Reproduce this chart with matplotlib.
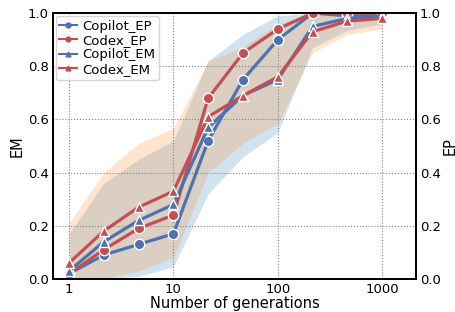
import matplotlib
matplotlib.use("Agg")
import matplotlib.pyplot as plt
from matplotlib.lines import Line2D

# data
generations = [1, 2.15, 4.64, 10, 21.5, 46.4, 100, 215, 464, 1000]
copilot_ep = [0.02, 0.09, 0.13, 0.17, 0.52, 0.75, 0.90, 1.00, 0.99, 0.99]
codex_ep = [0.02, 0.11, 0.19, 0.24, 0.68, 0.85, 0.94, 1.00, 1.00, 1.00]
copilot_em = [0.03, 0.14, 0.22, 0.28, 0.57, 0.69, 0.75, 0.95, 0.98, 0.99]
codex_em = [0.06, 0.18, 0.27, 0.33, 0.61, 0.69, 0.76, 0.93, 0.97, 0.98]

# shaded ranges
copilot_low = [0.00, 0.00, 0.01, 0.045, 0.32, 0.46, 0.55, 0.87, 0.935, 0.96]
copilot_high = [0.17, 0.36, 0.45, 0.52, 0.82, 0.92, 0.99, 1.00, 1.00, 1.00]
codex_low = [0.00, 0.00, 0.03, 0.08, 0.40, 0.51, 0.585, 0.85, 0.92, 0.94]
codex_high = [0.21, 0.40, 0.51, 0.567, 0.82, 0.873, 0.96, 1.00, 1.00, 1.00]

blue = "#4c72b0"
red = "#c44e52"

plt.rcParams["font.family"] = "DejaVu Sans"
fig, ax = plt.subplots(figsize=(4.56, 3.12), dpi=100)
fig.subplots_adjust(left=0.116, right=0.912, top=0.958, bottom=0.106)

ax.fill_between(generations, copilot_low, copilot_high, color="tab:blue", alpha=0.2, linewidth=0)
ax.fill_between(generations, codex_low, codex_high, color="tab:orange", alpha=0.2, linewidth=0)

kw = dict(linewidth=2.3, markersize=7.5, markeredgecolor="white", markeredgewidth=1)
ax.plot(generations, copilot_ep, color=blue, marker="o", **kw)
ax.plot(generations, codex_ep, color=red, marker="o", **kw)
ax.plot(generations, copilot_em, color=blue, marker="^", **kw)
ax.plot(generations, codex_em, color=red, marker="^", **kw)

ax.set_xscale("log")
ax.set_xlim(0.7, 2100)
ax.set_ylim(0, 1)
ax.set_xticks([1, 10, 100, 1000])
ax.set_xticklabels(["1", "10", "100", "1000"])
ax.set_yticks([0, 0.2, 0.4, 0.6, 0.8, 1.0])
ax.minorticks_off()
ax.grid(True, linestyle=":", color="gray", linewidth=0.8)
ax.tick_params(length=0, labelsize=9.5, pad=3)
ax.set_xlabel("Number of generations", fontsize=10.5, labelpad=0)
ax.set_ylabel("EM", fontsize=10.5, labelpad=2)

ax2 = ax.twinx()
ax2.set_ylim(0, 1)
ax2.set_yticks([0, 0.2, 0.4, 0.6, 0.8, 1.0])
ax2.tick_params(length=0, labelsize=9.5, pad=3)
ax2.set_ylabel("EP", fontsize=10.5, labelpad=1)

for a in (ax, ax2):
    for s in a.spines.values():
        s.set_linewidth(1.3)
        s.set_color("black")

handles = [
    Line2D([], [], color=blue, marker="o", markersize=3.5, linewidth=1.5),
    Line2D([], [], color=red, marker="o", markersize=3.5, linewidth=1.5),
    Line2D([], [], color=blue, marker="^", markersize=3.5, linewidth=1.5),
    Line2D([], [], color=red, marker="^", markersize=3.5, linewidth=1.5),
]
ax2.legend(handles, ["Copilot_EP", "Codex_EP", "Copilot_EM", "Codex_EM"],
           loc="upper left", fontsize=9.5, handlelength=1.3, handletextpad=0.4,
           borderpad=0.3, labelspacing=0.1, borderaxespad=0.2)

fig.savefig("out.png", dpi=100)
